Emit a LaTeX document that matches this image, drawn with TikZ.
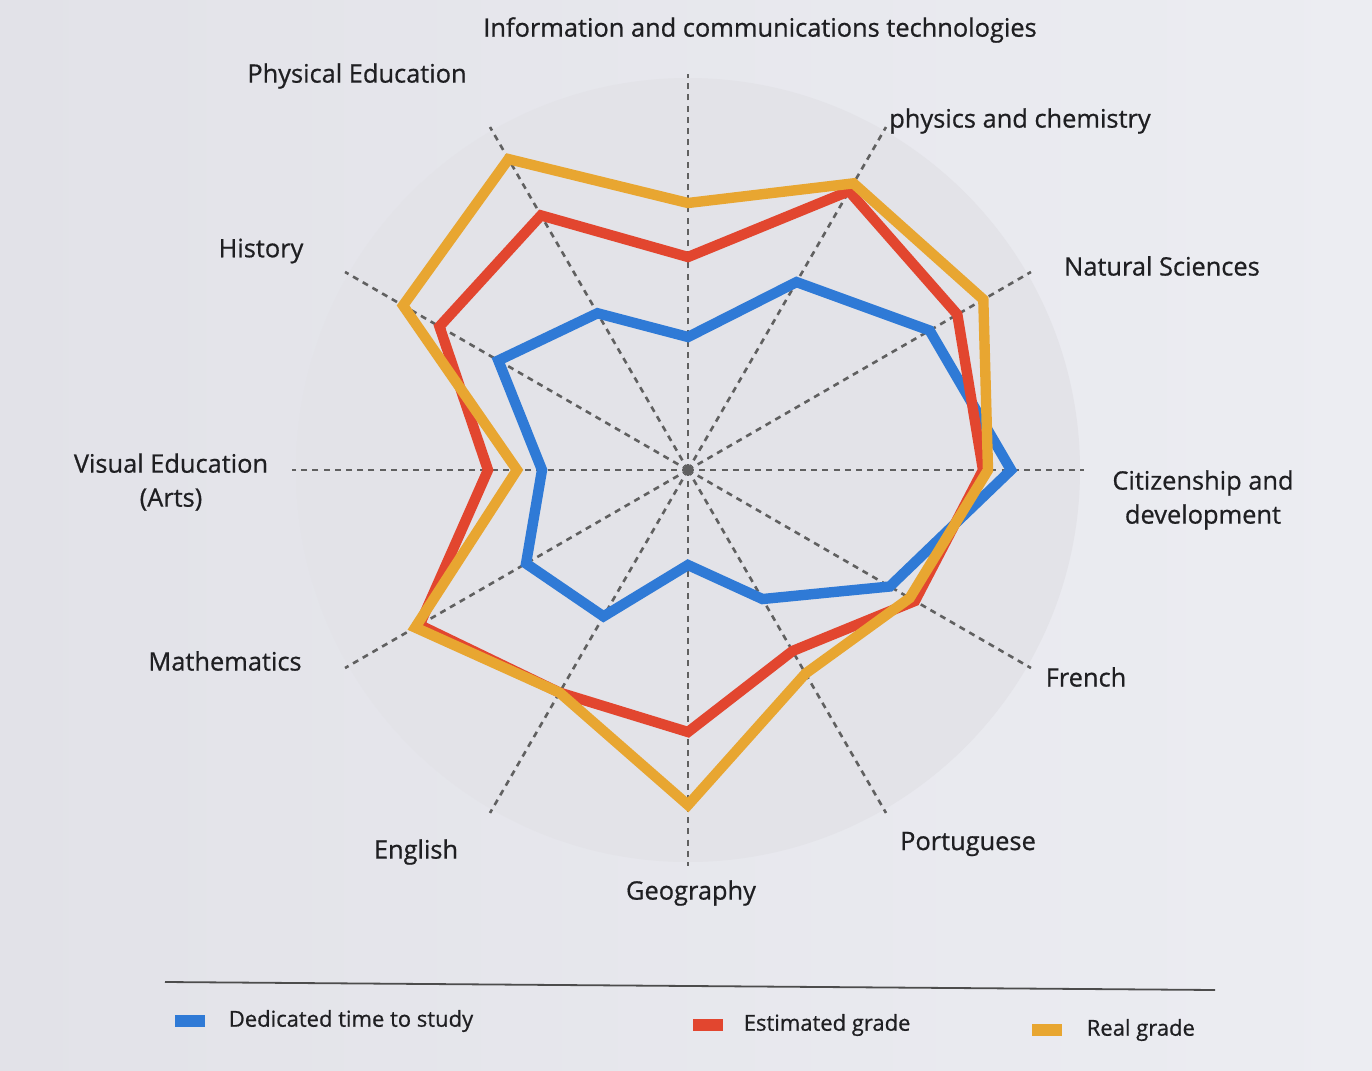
\documentclass[tikz,border=0pt]{standalone}
\usepackage{fontspec}
\setmainfont{Open Sans}[FakeBold=0.7]
\usetikzlibrary{positioning}
\definecolor{bgleft}{HTML}{E2E2E8}
\definecolor{bgright}{HTML}{ECEDF2}
\definecolor{discin}{HTML}{E3E3E8}
\definecolor{discout}{HTML}{D4D4D9}
\definecolor{textcol}{HTML}{1F1F22}
\definecolor{timecol}{HTML}{2F7AD6}
\definecolor{estcol}{HTML}{E2462F}
\definecolor{realcol}{HTML}{E8A631}
\pgfdeclareradialshading{discshade}{\pgfpointorigin}{color(0bp)=(discin); color(36bp)=(discin); color(50bp)=(discout)}
\tikzset{
  axisline/.style={gray!75!black, line width=1.3pt, dash pattern=on 3pt off 2.6pt},
  dataline/.style={line width=5.2pt, line join=miter},
  subjlabel/.style={text=textcol, font=\fontsize{12.7}{17}\selectfont, align=center, inner sep=0pt},
  keybox/.style={minimum width=15pt, minimum height=6pt, inner sep=0pt},
  keytext/.style={text=textcol, font=\fontsize{11}{13}\selectfont, inner sep=0pt},
}
\begin{document}
\begin{tikzpicture}[x=0.5pt,y=0.5pt]
\useasboundingbox (0,0) rectangle (1372,-1071);
\shade[left color=bgleft,right color=bgright] (0,0) rectangle (1372,-1071);
\coordinate (O) at (688,-470);
\shade[shading=discshade] (O) circle (392);
\foreach \a in {0,30,...,330} \draw[axisline] (O) -- ++(\a:396);
% the three series, clockwise from the top axis
\begin{scope}[shift={(O)}]
\draw[dataline,timecol] (90:133)--(60:217)--(30:279)--(0:323)--(-30:233)--(-60:149)--(-90:95)--(-120:169)--(-150:187)--(180:146)--(150:219)--(120:181)--cycle;
\draw[dataline,estcol] (90:213)--(60:322)--(30:311)--(0:295)--(-30:262)--(-60:209)--(-90:262)--(-120:257)--(-150:310)--(180:200)--(150:287)--(120:294)--cycle;
\draw[dataline,realcol] (90:267)--(60:331)--(30:341)--(0:300)--(-30:256)--(-60:235)--(-90:335)--(-120:257)--(-150:315)--(180:171)--(150:329)--(120:359)--cycle;
\end{scope}
\node[subjlabel] (ict) at (760,-30) {Information and communications technologies};
\node[subjlabel] (phys) at (1020,-121) {physics and chemistry};
\node[subjlabel] (nat) at (1162,-266) {Natural Sciences};
\node[subjlabel] (cit) at (1203,-500) {Citizenship and\\development};
\node[subjlabel] (fre) at (1086,-677) {French};
\node[subjlabel] (por) at (968,-844) {Portuguese};
\node[subjlabel] (geo) at (691,-893) {Geography};
\node[subjlabel] (eng) at (416,-852) {English};
\node[subjlabel] (mat) at (225,-661) {Mathematics};
\node[subjlabel] (vis) at (171,-482) {Visual Education\\(Arts)};
\node[subjlabel] (his) at (261,-251) {History};
\node[subjlabel] (ped) at (357,-76) {Physical Education};
% legend
\draw[gray!60!black, line width=0.9pt] (165,-982) -- (1215,-990);
\node[keybox,fill=timecol] (ktime) at (190,-1021) {};
\node[keytext,right=11.5pt of ktime] (ttime) {Dedicated time to study};
\node[keybox,fill=estcol] (kest) at (708,-1025) {};
\node[keytext,right=10pt of kest] (test) {Estimated grade};
\node[keybox,fill=realcol] (kreal) at (1047,-1030) {};
\node[keytext,right=12pt of kreal] (treal) {Real grade};
\end{tikzpicture}
\end{document}
